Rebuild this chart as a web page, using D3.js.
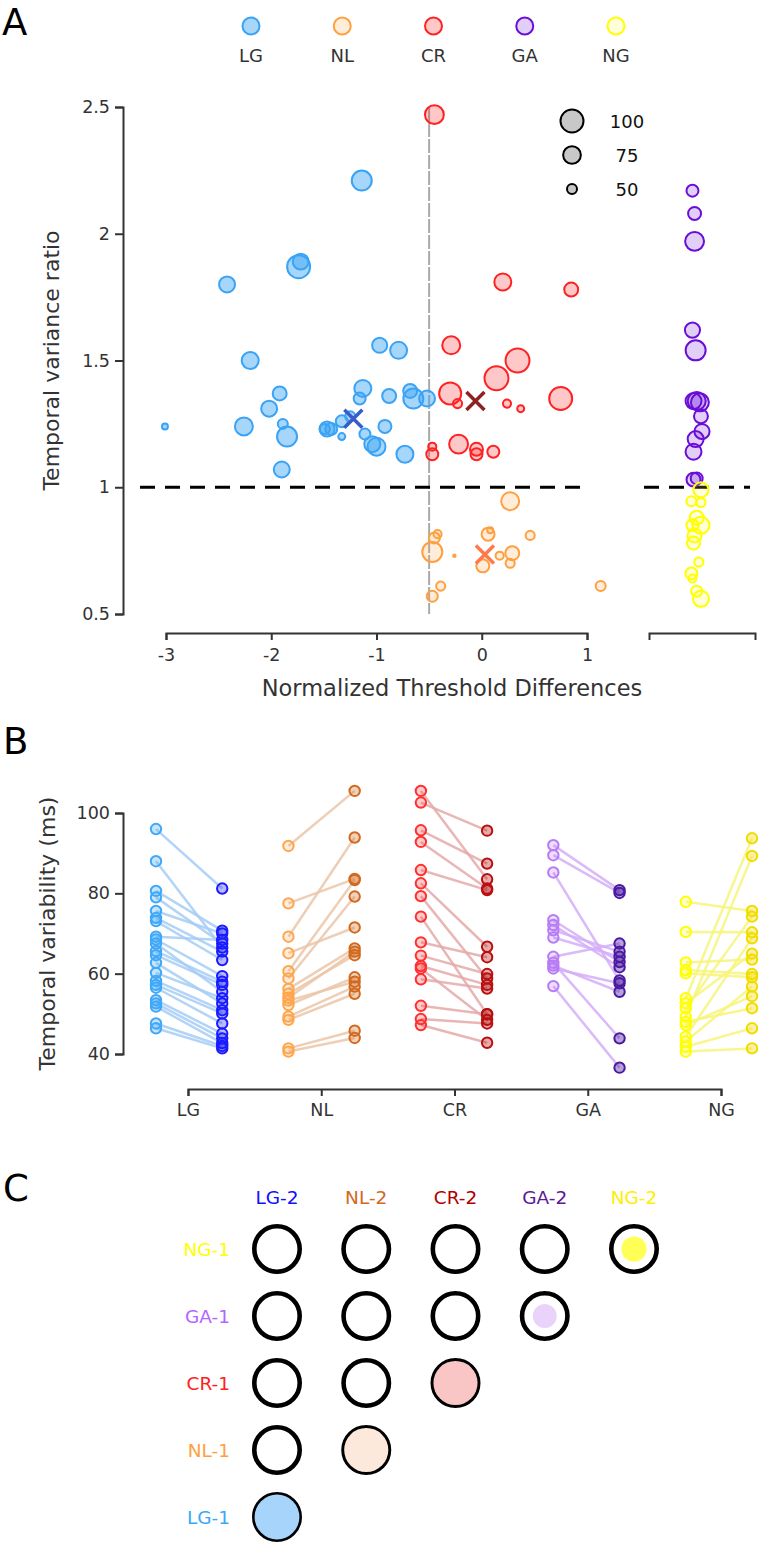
<!DOCTYPE html>
<html><head><meta charset="utf-8">
<script src="https://cdn.jsdelivr.net/npm/d3@7"></script>
<style>
body{margin:0;background:#fff}
svg{display:block;font-family:"DejaVu Sans",Verdana,sans-serif}
</style>
</head><body>
<svg id="chart" width="764" height="1545"></svg>
<script>
// ---------------- DATA ----------------
const groups = ["LG", "NL", "CR", "GA", "NG"];
const sizeLegendValues = [100, 75, 50];

// Panel A: [normalized threshold difference, temporal variance ratio, size]
const lgPoints = [
  [-1.14,2.21,85],[-1.74,1.87,100],[-1.72,1.89,68],[-2.42,1.80,68],[-2.20,1.50,72],
  [-0.97,1.56,65],[-0.79,1.54,72],[-1.13,1.39,72],[-1.16,1.35,55],[-0.88,1.36,61],
  [-0.68,1.38,61],[-0.65,1.35,85],[-0.52,1.35,68],[-1.92,1.37,61],[-2.02,1.31,68],
  [-2.26,1.24,76],[-3.01,1.24,42.5],[-1.89,1.25,50],[-1.85,1.20,85],[-1.90,1.07,68],
  [-1.47,1.23,65],[-1.43,1.23,55],[-1.33,1.20,44],[-1.33,1.26,55],[-1.25,1.28,50],
  [-1.11,1.21,52.5],[-1.04,1.17,68],[-1.00,1.16,76],[-0.92,1.24,58],[-0.73,1.13,72],
  [-1.49,1.23,50]
];
const crPoints = [
  [-0.45,2.47,80],[0.20,1.81,72],[0.85,1.78,61],[-0.29,1.56,76],[0.34,1.50,105],
  [0.14,1.43,105],[-0.30,1.37,95],[-0.23,1.33,48],[0.24,1.33,46],[0.37,1.31,44],
  [0.75,1.35,100],[-0.47,1.16,46],[-0.47,1.13,55],[-0.22,1.17,80],[-0.05,1.15,58],
  [-0.05,1.13,55],[0.11,1.14,55]
];
const nlPoints = [
  [0.27,0.945,76],[-0.45,0.80,52.5],[-0.42,0.815,46],[-0.47,0.745,85],[-0.26,0.73,39],
  [0.06,0.815,58],[0.08,0.83,42.5],[0.01,0.69,58],[0.17,0.73,46],[0.29,0.74,61],
  [0.27,0.70,48],[0.46,0.81,48],[-0.39,0.61,48],[-0.47,0.57,52.5],[1.13,0.61,50]
];
// GA / NG column: [jitter (0-1 across the column), ratio, size]
const gaPoints = [
  [0.41,2.17,55],[0.43,2.08,58],[0.43,1.97,80],[0.41,1.62,65],[0.44,1.54,85],
  [0.45,1.34,76],[0.48,1.335,76],[0.42,1.34,68],[0.49,1.28,61],[0.50,1.22,65],
  [0.44,1.19,68],[0.42,1.14,68],[0.45,1.035,55],[0.42,1.03,61]
];
const ngPoints = [
  [0.49,0.99,65],[0.40,0.945,50],[0.49,0.94,48],[0.45,0.88,61],[0.49,0.85,72],
  [0.41,0.85,55],[0.43,0.81,61],[0.42,0.78,58],[0.47,0.705,48],[0.40,0.66,55],
  [0.41,0.64,46],[0.45,0.59,52.5],[0.49,0.56,68]
];
// group means (X markers)
const meanPoints = [["LG",-1.22,1.27],["CR",-0.06,1.34],["NL",0.03,0.735]];
const refThreshold = -0.5;
const refRatio = 1;
const xTicksA = [-3,-2,-1,0,1];
const yTicksA = [0.5,1,1.5,2,2.5];

// Panel B: temporal variability (ms), session 1 -> session 2
const lgSession1 = [96,88,80.6,79,75.6,73.9,73.1,69.2,68.5,67.5,65.6,64.6,62.7,60.2,58.2,57.2,56.5,53.4,52.6,51.8,47.6,46.4];
const lgSession2 = [81.2,66.5,70.7,67.5,70.0,65.5,63.4,68.4,59.4,55.5,58.0,57.2,52.6,53.9,50.9,50.1,47.6,45.1,43.9,42.7,42.0,41.4];
const nlSession1 = [91.8,77.5,69.2,65.1,60.6,58.8,56.2,55.0,54.0,53.3,52.2,49.3,48.5,41.4,40.6];
const nlSession2 = [105.5,83.6,93.9,71.5,83.3,79.2,66.3,64.6,65.5,58.0,59.1,56.8,55.0,45.8,44.0];
const crSession1 = [105.5,102.6,95.7,92.8,85.8,82.5,79.3,74.2,67.8,64.5,61.9,61.3,58.6,52.0,48.7,47.2];
const crSession2 = [83.5,95.6,87.4,81.2,80.8,66.7,58.8,49.9,64.1,59.9,57.2,48.5,56.3,49.9,47.6,42.8];
const gaSession1 = [92.0,89.5,85.2,73.3,72.1,70.8,69.0,64.2,62.7,62.0,61.3,56.9];
const gaSession2 = [80.8,80.1,58.3,62.9,61.6,65.5,64.2,67.5,43.9,55.5,57.6,36.6];
const ngSession1 = [77.9,70.4,62.8,60.9,60.1,53.9,52.6,51.4,49.3,48.0,47.2,44.3,43.1,41.8,40.6];
const ngSession2 = [75.6,70.3,63.5,59.9,59.1,93.7,65.0,74.2,89.3,51.4,54.4,68.8,56.8,46.4,41.4];
const yTicksB = [40,60,80,100];

// Panel C
const cCols = ["LG-2","NL-2","CR-2","GA-2","NG-2"];
const cRows = ["NG-1","GA-1","CR-1","NL-1","LG-1"];
const cValues = [
  [0,0,0,0,0.30],
  [0,0,0,0.27],
  [0,0,0.92],
  [0,0.92],
  [0.95]
];

// ---------------- STYLES ----------------
const FONT = '"DejaVu Sans",Verdana,sans-serif';
const colA = {
  LG:{stroke:"#3aa3f5", fill:"rgba(58,163,245,0.45)"},
  NL:{stroke:"#ffa040", fill:"rgba(255,160,64,0.2)"},
  CR:{stroke:"#ff2222", fill:"rgba(255,34,34,0.25)"},
  GA:{stroke:"#6a0dd8", fill:"rgba(106,13,216,0.2)"},
  NG:{stroke:"#ffff00", fill:"rgba(255,255,0,0.15)"}
};
const meanColor = {LG:"#3a5cc8", CR:"#8b2323", NL:"#ff7a4a"};
const colB = {
  LG:[{s:"#40a8f8",f:"rgba(64,168,248,0.3)"},{s:"#1a1aff",f:"rgba(26,26,255,0.3)"},"#a5ccf6"],
  NL:[{s:"#ffa64d",f:"rgba(255,166,77,0.2)"},{s:"#d2691e",f:"rgba(210,105,30,0.3)"},"#ebc6a8"],
  CR:[{s:"#ff3030",f:"rgba(255,48,48,0.25)"},{s:"#b81010",f:"rgba(184,16,16,0.35)"},"#e5a9a9"],
  GA:[{s:"#b77bf5",f:"rgba(183,123,245,0.25)"},{s:"#4a1aa0",f:"rgba(74,26,160,0.4)"},"#d4aef7"],
  NG:[{s:"#ffff00",f:"rgba(255,255,0,0.2)"},{s:"#f2dc00",f:"rgba(242,220,0,0.35)"},"#f7f57a"]
};
const cColColors = ["#1010ff","#d2691e","#b00000","#5a1a9a","#ffee00"];
const cRowColors = ["#ffff00","#b266ff","#ff2020","#ffa040","#3aa8f8"];
const cFillColors = {"LG":"#a6d4fa","NL":"#fde9dc","CR":"#f9c5c5","GA":"#e9d3fb","NG":"#ffff55"};

const svg = d3.select("#chart");

function styleAxis(g, fs){
  g.attr("font-family", FONT).attr("font-size", fs || 17.5);
  g.selectAll("path,line").attr("stroke","#333").attr("stroke-width",2);
  g.selectAll("text").attr("fill","#333");
}

// Panel letters
[["A",2,35],["B",3,754],["C",3,1201]].forEach(([t,x,y])=>{
  svg.append("text").attr("x",x).attr("y",y).attr("font-size",37).attr("font-family",FONT).attr("fill","#000").text(t);
});

// ================= PANEL A =================
const xA = d3.scaleLinear().domain([-3,1]).range([166,587]);
const yA = d3.scaleLinear().domain([0.5,2.5]).range([614,107]);
const xCol = d3.scaleLinear().domain([0,1]).range([649,755]);
const rArea = d3.scaleLinear().domain([50,100]).range([25,132.25]);
const rA = v => Math.sqrt(Math.max(1, rArea(v)));

// group legend
const legX = d3.scalePoint().domain(groups).range([251,616]);
const leg = svg.append("g");
groups.forEach(gname=>{
  leg.append("circle").attr("cx",legX(gname)).attr("cy",26).attr("r",8.5)
    .attr("fill",colA[gname].fill).attr("stroke",colA[gname].stroke).attr("stroke-width",2);
  leg.append("text").attr("x",legX(gname)).attr("y",62).attr("text-anchor","middle")
    .attr("font-size",18).attr("font-family",FONT).attr("fill","#333").text(gname);
});

// size legend
const sizeY = d3.scalePoint().domain(sizeLegendValues).range([121,189]);
sizeLegendValues.forEach(v=>{
  svg.append("circle").attr("cx",572).attr("cy",sizeY(v)).attr("r",rA(v))
    .attr("fill","#c8c8c8").attr("stroke","#000").attr("stroke-width",2);
  svg.append("text").attr("x",627).attr("y",sizeY(v)+6.5).attr("text-anchor","middle")
    .attr("font-size",18).attr("font-family",FONT).attr("fill","#111").text(v);
});

// axes A
const gyA = svg.append("g").attr("transform","translate(123,0)")
  .call(d3.axisLeft(yA).tickValues(yTicksA).tickFormat(d=>String(d)).tickSize(8).tickPadding(5));
styleAxis(gyA);
const gxA = svg.append("g").attr("transform","translate(0,633)")
  .call(d3.axisBottom(xA).tickValues(xTicksA).tickFormat(d=>String(d)).tickSize(7).tickPadding(9));
styleAxis(gxA);
const gxC = svg.append("g").attr("transform","translate(0,633)")
  .call(d3.axisBottom(xCol).tickValues([]).tickSizeOuter(7));
styleAxis(gxC);

// titles A
svg.append("text").attr("transform",`translate(59,${(yA(0.5)+yA(2.5))/2}) rotate(-90)`)
  .attr("text-anchor","middle").attr("font-size",22).attr("font-family",FONT).attr("fill","#333")
  .text("Temporal variance ratio");
svg.append("text").attr("x",452).attr("y",696).attr("text-anchor","middle")
  .attr("font-size",22.5).attr("font-family",FONT).attr("fill","#333")
  .text("Normalized Threshold Differences");

// reference lines
svg.append("line").attr("x1",xA(refThreshold)).attr("x2",xA(refThreshold))
  .attr("y1",yA(2.5)).attr("y2",yA(0.5)).attr("stroke","#aaa").attr("stroke-width",2)
  .attr("stroke-dasharray","14,2");
svg.append("line").attr("x1",140).attr("x2",588).attr("y1",yA(refRatio)).attr("y2",yA(refRatio))
  .attr("stroke","#000").attr("stroke-width",3).attr("stroke-dasharray","15,10");
svg.append("line").attr("x1",644).attr("x2",750).attr("y1",yA(refRatio)).attr("y2",yA(refRatio))
  .attr("stroke","#000").attr("stroke-width",3).attr("stroke-dasharray","15,10");

function drawScatter(pts, gname, xf){
  svg.append("g").selectAll("circle").data(pts).join("circle")
    .attr("cx",d=>xf(d[0])).attr("cy",d=>yA(d[1])).attr("r",d=>rA(d[2]))
    .attr("fill",colA[gname].fill).attr("stroke",colA[gname].stroke).attr("stroke-width",2);
}
drawScatter(lgPoints,"LG",xA);
drawScatter(crPoints,"CR",xA);
drawScatter(nlPoints,"NL",xA);
drawScatter(gaPoints,"GA",xCol);
drawScatter(ngPoints,"NG",xCol);

// mean markers
meanPoints.forEach(([g,mx,my])=>{
  const cx = xA(mx), cy = yA(my), h = 9;
  svg.append("path").attr("d",`M${cx-h},${cy-h}L${cx+h},${cy+h}M${cx-h},${cy+h}L${cx+h},${cy-h}`)
    .attr("stroke",meanColor[g]).attr("stroke-width",3.5).attr("fill","none");
});

// ================= PANEL B =================
const yB = d3.scaleLinear().domain([40,100]).range([1054,813]);
const xB = d3.scalePoint().domain(groups).range([188,721]);
const colSlots = groups.flatMap(g=>[g+"-1", g+"-2"]);
const xSlot = d3.scalePoint().domain(colSlots).range([156,752]);

const gyB = svg.append("g").attr("transform","translate(123,0)")
  .call(d3.axisLeft(yB).tickValues(yTicksB).tickSize(8).tickPadding(5));
styleAxis(gyB);
const gxB = svg.append("g").attr("transform","translate(0,1089)")
  .call(d3.axisBottom(xB).tickSize(7).tickPadding(8));
styleAxis(gxB);
svg.append("text").attr("transform",`translate(55,${(yB(40)+yB(100))/2}) rotate(-90)`)
  .attr("text-anchor","middle").attr("font-size",22).attr("font-family",FONT).attr("fill","#333")
  .text("Temporal variability (ms)");

const sessions = {
  LG:[lgSession1,lgSession2], NL:[nlSession1,nlSession2], CR:[crSession1,crSession2],
  GA:[gaSession1,gaSession2], NG:[ngSession1,ngSession2]
};
groups.forEach(g=>{
  const [s1,s2] = sessions[g];
  const x1 = xSlot(g+"-1"), x2 = xSlot(g+"-2");
  const pairs = s1.map((v,i)=>[v,s2[i]]);
  svg.append("g").selectAll("line").data(pairs).join("line")
    .attr("x1",x1).attr("x2",x2).attr("y1",d=>yB(d[0])).attr("y2",d=>yB(d[1]))
    .attr("stroke",colB[g][2]).attr("stroke-width",2.5).attr("stroke-opacity",0.85);
});
groups.forEach(g=>{
  const [s1,s2] = sessions[g];
  [[s1,g+"-1",colB[g][0]],[s2,g+"-2",colB[g][1]]].forEach(([arr,slot,c])=>{
    svg.append("g").selectAll("circle").data(arr).join("circle")
      .attr("cx",xSlot(slot)).attr("cy",d=>yB(d)).attr("r",5.2)
      .attr("fill",c.f).attr("stroke",c.s).attr("stroke-width",2);
  });
});

// ================= PANEL C =================
const xC = d3.scalePoint().domain(cCols).range([277,634]);
const yC = d3.scalePoint().domain(cRows).range([1249,1517]);
const rFill = d3.scaleSqrt().domain([0,1]).range([0,23]);

cCols.forEach((c,i)=>{
  svg.append("text").attr("x",xC(c)).attr("y",1204).attr("text-anchor","middle")
    .attr("font-size",18.5).attr("font-family",FONT).attr("fill",cColColors[i]).text(c);
});
cRows.forEach((r,i)=>{
  svg.append("text").attr("x",230).attr("y",yC(r)+7).attr("text-anchor","end")
    .attr("font-size",18.5).attr("font-family",FONT).attr("fill",cRowColors[i]).text(r);
});
cRows.forEach((r,ri)=>{
  cValues[ri].forEach((v,ci)=>{
    const cx = xC(cCols[ci]), cy = yC(r);
    svg.append("circle").attr("cx",cx).attr("cy",cy).attr("r",22.7)
      .attr("fill","none").attr("stroke","#000").attr("stroke-width",4.6);
    if (v > 0) {
      svg.append("circle").attr("cx",cx).attr("cy",cy).attr("r",rFill(v))
        .attr("fill",cFillColors[cCols[ci].slice(0,2)]);
    }
  });
});
</script>
</body></html>
